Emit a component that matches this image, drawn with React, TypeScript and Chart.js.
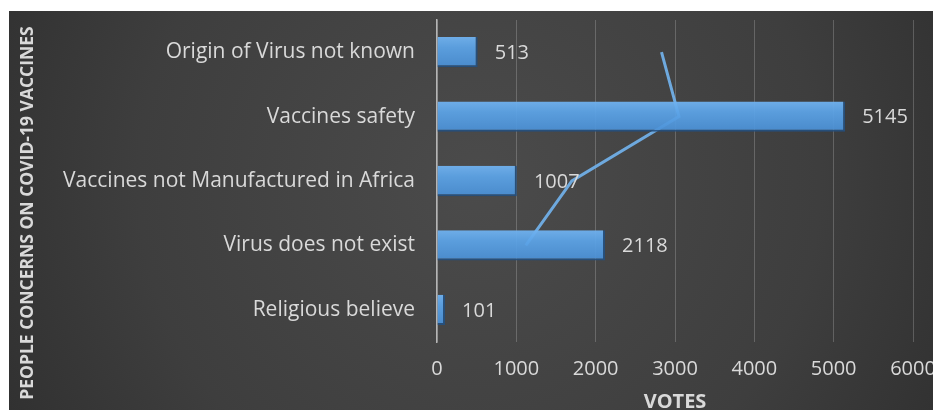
import { useEffect, useRef } from "react";
import { Chart, registerables } from "chart.js";

Chart.register(...registerables);

const categories = [
  "Origin of Virus not known",
  "Vaccines safety",
  "Vaccines not Manufactured in Africa",
  "Virus does not exist",
  "Religious believe",
];
const votes = [513, 5145, 1007, 2118, 101];
const lineValues: (number | null)[] = [2830, 3050, 1700, 1120, null];
const xMin = 0;
const xMax = 6000;
const xStep = 1000;
const xTitle = "VOTES";
const yTitle = "PEOPLE CONCERNS ON COVID-19 VACCINES";

const FONT = "'Open Sans', 'DejaVu Sans', sans-serif";
const TEXT = "#d9d9d9";

const backgroundPlugin = {
  id: "bgGradient",
  beforeDraw(chart: any) {
    const { ctx, width, height } = chart;
    ctx.save();
    const g = ctx.createRadialGradient(470, 170, 0, 470, 170, 620);
    g.addColorStop(0, "#4b4b4b");
    g.addColorStop(0.55, "#3e3e3e");
    g.addColorStop(1, "#2a2a2a");
    ctx.fillStyle = g;
    ctx.fillRect(0, 0, width, height);
    ctx.restore();
  },
};

const titlesPlugin = {
  id: "axisTitles",
  afterDraw(chart: any) {
    const { ctx, chartArea } = chart;
    ctx.save();
    ctx.fillStyle = TEXT;
    ctx.textAlign = "center";
    ctx.textBaseline = "middle";
    ctx.font = `bold 20px ${FONT}`;
    ctx.fillText(xTitle, (chartArea.left + chartArea.right) / 2, 391);
    ctx.translate(19, 202);
    ctx.rotate(-Math.PI / 2);
    ctx.font = `bold 17.5px ${FONT}`;
    ctx.fillText(yTitle, 0, 0);
    ctx.restore();
  },
};

const valueLabelPlugin = {
  id: "valueLabels",
  afterDatasetsDraw(chart: any) {
    const { ctx } = chart;
    const meta = chart.getDatasetMeta(0);
    ctx.save();
    ctx.font = `20px ${FONT}`;
    ctx.fillStyle = TEXT;
    ctx.textAlign = "left";
    ctx.textBaseline = "middle";
    meta.data.forEach((bar: any, i: number) => {
      ctx.fillText(String(votes[i]), bar.x + 17, bar.y + 1);
    });
    ctx.restore();
  },
};

function barFill(context: any) {
  const chart = context.chart;
  const yScale = chart.scales && chart.scales.y;
  if (!yScale || !chart.chartArea || context.dataIndex === undefined) {
    return "rgba(88, 160, 228, 0.93)";
  }
  const yc = yScale.getPixelForValue(context.dataIndex);
  const g = chart.ctx.createLinearGradient(0, yc - 15, 0, yc + 15);
  g.addColorStop(0, "rgba(112, 178, 240, 0.95)");
  g.addColorStop(0.35, "rgba(92, 164, 232, 0.93)");
  g.addColorStop(1, "rgba(74, 144, 214, 0.93)");
  return g;
}

export default function App() {
  const ref = useRef<HTMLCanvasElement>(null);

  useEffect(() => {
    if (!ref.current) return;
    const chart = new Chart(ref.current, {
      type: "bar",
      data: {
        labels: categories,
        datasets: [
          {
            type: "bar",
            label: "Votes",
            data: votes,
            backgroundColor: barFill,
            borderColor: "rgba(36, 80, 128, 0.9)",
            borderWidth: { bottom: 2, top: 0, left: 0, right: 2 } as any,
            borderSkipped: "left",
            barPercentage: 0.47,
            categoryPercentage: 1,
            order: 1,
          } as any,
          {
            type: "line",
            label: "Trend",
            data: lineValues,
            indexAxis: "y",
            borderColor: "#6ea9de",
            borderWidth: 3,
            pointRadius: 0,
            fill: false,
            order: 2,
          } as any,
        ],
      },
      options: {
        indexAxis: "y",
        animation: false,
        responsive: true,
        maintainAspectRatio: false,
        layout: { padding: { left: 0, right: 20, top: 9, bottom: 0 } },
        plugins: {
          legend: { display: false },
          tooltip: { enabled: false },
        },
        scales: {
          x: {
            type: "linear",
            min: xMin,
            max: xMax,
            ticks: {
              stepSize: xStep,
              color: TEXT,
              font: { family: FONT, size: 20 },
              padding: 15,
              callback: (v: any) => String(v),
            },
            grid: {
              color: "rgba(255,255,255,0.2)",
              lineWidth: 1,
              drawTicks: false,
            },
            border: { display: false },
            title: { display: false },
            afterFit(scale: any) {
              scale.height = 68;
              scale.paddingRight = 0;
              scale.paddingLeft = 0;
            },
          },
          y: {
            type: "category",
            offset: true,
            ticks: {
              color: TEXT,
              font: { family: FONT, size: 21 },
              padding: 22,
            },
            grid: { display: false, drawTicks: false },
            border: { display: true, color: "#b5b5b5", width: 1.5 },
            title: { display: false },
            afterFit(scale: any) {
              scale.width = 428;
              scale.paddingTop = 0;
              scale.paddingBottom = 0;
            },
          },
        },
      },
      plugins: [backgroundPlugin, valueLabelPlugin, titlesPlugin],
    } as any);
    return () => chart.destroy();
  }, []);

  return (
    <div
      style={{
        position: "fixed",
        left: 9,
        top: 11,
        width: 924,
        height: 399,
      }}
    >
      <canvas ref={ref} />
    </div>
  );
}
